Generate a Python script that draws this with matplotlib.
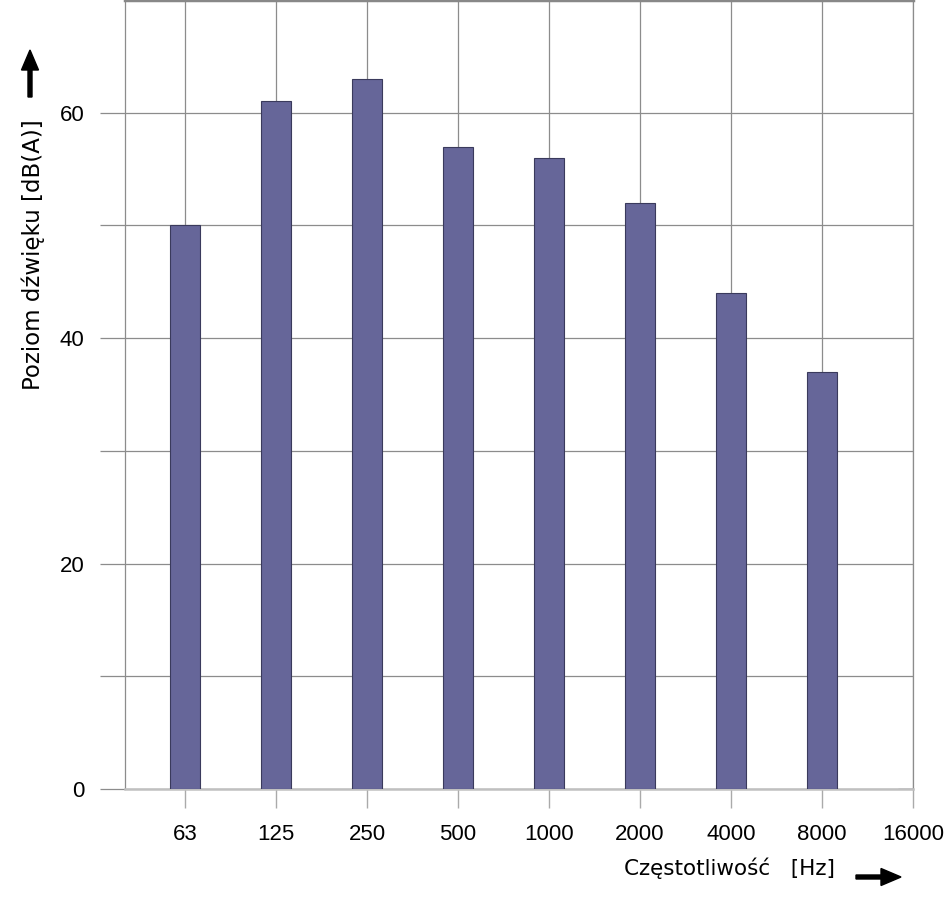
#!/usr/bin/env python3
"""
Bar chart of sound level per octave band
"""
import numpy as np
import matplotlib.pyplot as plt
from matplotlib.patches import FancyArrow

freqs = ['63', '125', '250', '500', '1000', '2000', '4000', '8000', '16000']
levels = [50, 61, 63, 57, 56, 52, 44, 37, 0]

W, H = 945, 905
fig = plt.figure(figsize=(W / 100, H / 100), dpi=100)
ax = fig.add_axes([125 / W, 1 - 789 / H, (913 - 125) / W, 789 / H])

x = np.arange(len(freqs))
ax.bar(x, levels, width=0.32, color='#666699', edgecolor='#3a3a5c', linewidth=0.8, zorder=3)

ax.set_xlim(-0.66, len(freqs) - 1)
ax.set_ylim(0, 70)
ax.set_xticks(x)
ax.set_xticklabels(freqs, fontsize=16, family='Liberation Sans')
ax.set_yticks([0, 20, 40, 60])
ax.set_yticks([10, 30, 50], minor=True)
ax.set_yticklabels(['0', '20', '40', '60'], fontsize=16, family='Liberation Sans')

ax.grid(True, axis='x', color='#8c8c8c', linewidth=0.9, zorder=0)
ax.grid(True, axis='y', which='both', color='#8c8c8c', linewidth=0.9, zorder=0)
ax.tick_params(axis='y', which='both', length=18, pad=11, color='#8c8c8c', width=0.9)
ax.tick_params(axis='x', length=14, pad=11, color='#aaaaaa', width=1)

for side in ['left', 'right']:
    ax.spines[side].set_color('#8c8c8c')
    ax.spines[side].set_linewidth(0.9)
ax.spines['bottom'].set_color('#c0c0c0')
ax.spines['bottom'].set_linewidth(1.8)
ax.spines['top'].set_color('#888888')
ax.spines['top'].set_linewidth(2.5)

fig.text(33 / W, 1 - 255 / H, 'Poziom dźwięku [dB(A)]', rotation=90,
         ha='center', va='center', fontsize=16.5, family='DejaVu Sans')
fig.text(730 / W, 1 - 868 / H, 'Częstotliwość   [Hz]',
         ha='center', va='center', fontsize=15.5, family='DejaVu Sans')

# arrows, in output pixels (origin bottom left)
fig.patches.append(FancyArrow(30, H - 97, 0, 47, width=4, head_width=17, head_length=20,
                              length_includes_head=True, color='black', transform=None))
fig.patches.append(FancyArrow(856, H - 877, 45, 0, width=4, head_width=17, head_length=20,
                              length_includes_head=True, color='black', transform=None))

fig.savefig('out.png', dpi=100)
